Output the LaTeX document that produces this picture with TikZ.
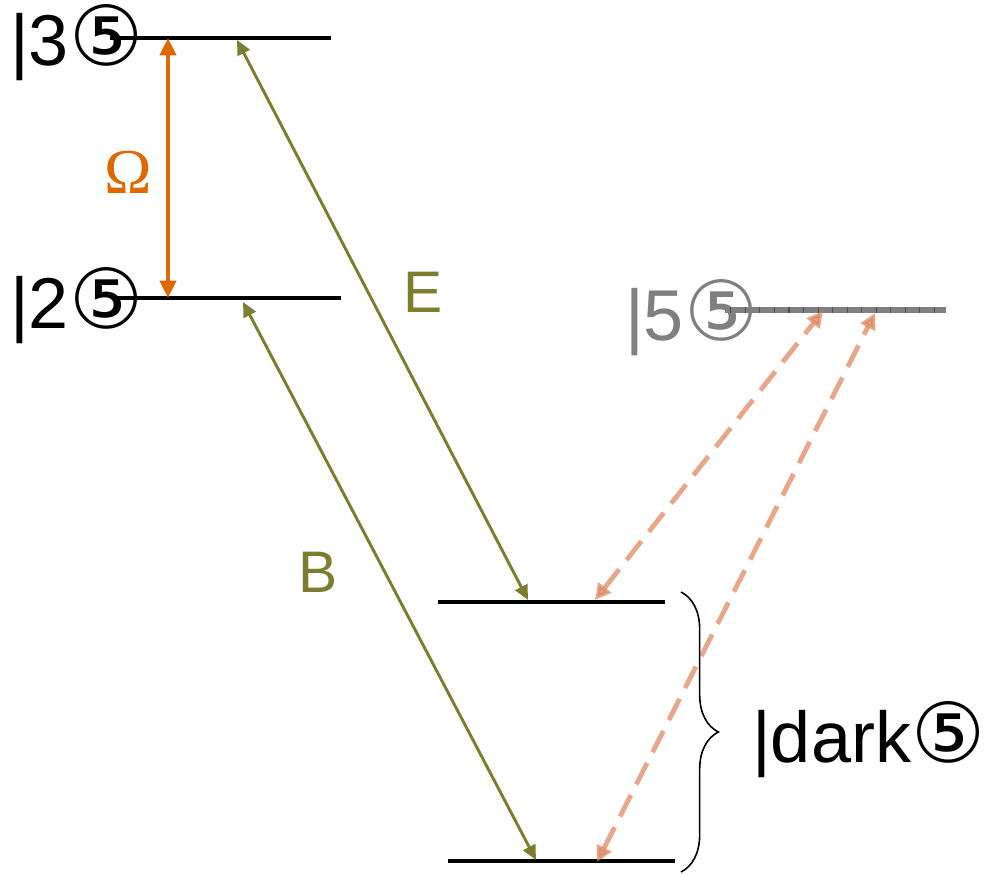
\documentclass[tikz,border=0pt]{standalone}
\usepackage{fontspec}
\setmainfont{Liberation Sans}
\newfontfamily\symfont{DejaVu Sans}
\newfontfamily\serffont{Liberation Serif}
\usetikzlibrary{arrows.meta,decorations.pathreplacing}
\definecolor{olivec}{RGB}{125,125,48}
\definecolor{orangec}{RGB}{224,104,0}
\definecolor{salmonc}{RGB}{222,130,90}
\definecolor{grayc}{RGB}{128,128,128}
\newcommand{\circfive}{{\symfont\fontsize{62}{62}\selectfont ⑤}}
\tikzset{
  level/.style={line width=2.4pt},
  ket/.style={anchor=base west,inner sep=0pt,font=\fontsize{54}{60}\selectfont},
  olivearrow/.style={olivec,line width=2.2pt,{Triangle[length=11pt,width=10pt]}-{Triangle[length=11pt,width=10pt]}},
  omegaarrow/.style={orangec,line width=3pt,{Triangle[length=13pt,width=12pt]}-{Triangle[length=13pt,width=12pt]}},
  darkarrow/.style={salmonc,opacity=0.7,line width=3.6pt,dash pattern=on 18pt off 9pt,{Triangle[length=12pt,width=12pt]}-{Triangle[length=12pt,width=12pt]}},
  lbl/.style={inner sep=0pt}
}
\begin{document}
\begin{tikzpicture}[x=0.75pt,y=-0.75pt]
\useasboundingbox (0,0) rectangle (984,874);
% levels
\coordinate (l3a) at (110,38);  \coordinate (l3b) at (331,38);
\coordinate (l2a) at (115,298); \coordinate (l2b) at (341,298);
\coordinate (l5a) at (725,310); \coordinate (l5b) at (946,310);
\coordinate (d1a) at (438,602); \coordinate (d1b) at (665,602);
\coordinate (d2a) at (448,861); \coordinate (d2b) at (675,861);
% labels
\node[ket] (k3) at (10,65) {|3\circfive};
\node[ket] (k2) at (10,328) {|2\circfive};
\node[ket,text=grayc] (k5) at (625,340) {|5\circfive};
\node[ket] (kd) at (752,762) {|dark\circfive};
\draw[level] (l3a) -- (l3b);
\draw[level] (l2a) -- (l2b);
\draw[level] (d1a) -- (d1b);
\draw[level] (d2a) -- (d2b);
\draw[grayc,line width=4pt] (l5a) -- (l5b);
\draw[grayc!60!black,line width=4pt,dash pattern=on 0.8pt off 10.1pt,dash phase=-4pt] (l5a) -- (l5b);
% omega
\coordinate (o3) at (168,38); \coordinate (o2) at (168,298);
\draw[omegaarrow] (o2) -- (o3);
\node[lbl,text=orangec,font=\serffont\fontsize{48}{50}\selectfont] (om) at (128,172) {Ω};
% E and B
\coordinate (e3) at (237,40); \coordinate (e1) at (528,600);
\coordinate (b2) at (243,302); \coordinate (b1) at (536,860);
\draw[olivearrow] (e1) -- (e3);
\draw[olivearrow] (b1) -- (b2);
\node[lbl,text=olivec,font=\fontsize{44}{46}\selectfont] (E) at (423,292) {E};
\node[lbl,text=olivec,font=\fontsize{44}{46}\selectfont] (B) at (318,572) {B};
% dashed arrows
\coordinate (s1) at (823,311); \coordinate (t1) at (595,600);
\coordinate (s2) at (875,313); \coordinate (t2) at (597,862);
\draw[darkarrow] (t1) -- (s1);
\draw[darkarrow] (t2) -- (s2);
% brace
\coordinate (bt) at (681,592); \coordinate (bb) at (681,872);
\draw[line width=1.2pt,decorate,decoration={brace,amplitude=28pt,aspect=0.5}] (bt) -- (bb);
\end{tikzpicture}
\end{document}
